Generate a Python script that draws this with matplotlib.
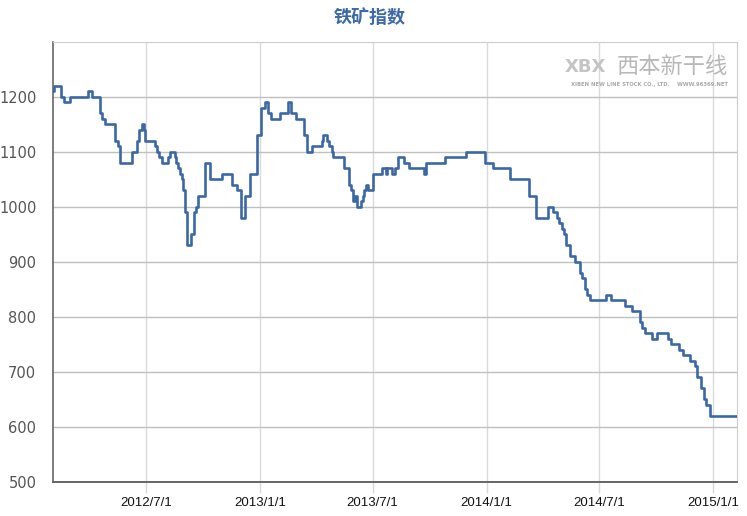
import matplotlib
matplotlib.use("Agg")
import matplotlib.pyplot as plt
import pandas as pd

# iron ore index, change points of the step series
dates = [
    "2012-02-02", "2012-02-03", "2012-02-15", "2012-02-20", "2012-03-01", "2012-03-29",
    "2012-04-05", "2012-04-18", "2012-04-21", "2012-04-25", "2012-05-12", "2012-05-17",
    "2012-05-20", "2012-06-09", "2012-06-17", "2012-06-20", "2012-06-25", "2012-06-28",
    "2012-06-30", "2012-07-15", "2012-07-18", "2012-07-22", "2012-07-26", "2012-08-05",
    "2012-08-09", "2012-08-16", "2012-08-19", "2012-08-21", "2012-08-24", "2012-08-28",
    "2012-08-29", "2012-09-01", "2012-09-02", "2012-09-05", "2012-09-11", "2012-09-17",
    "2012-09-20", "2012-09-23", "2012-10-04", "2012-10-12", "2012-11-01", "2012-11-17",
    "2012-11-25", "2012-12-01", "2012-12-08", "2012-12-16", "2012-12-27", "2013-01-02",
    "2013-01-09", "2013-01-14", "2013-01-18", "2013-02-02", "2013-02-15", "2013-02-20",
    "2013-02-27", "2013-03-12", "2013-03-18", "2013-03-26", "2013-04-10", "2013-04-12",
    "2013-04-18", "2013-04-22", "2013-04-26", "2013-04-29", "2013-05-16", "2013-05-24",
    "2013-05-27", "2013-05-30", "2013-06-02", "2013-06-06", "2013-06-12", "2013-06-15",
    "2013-06-17", "2013-06-20", "2013-06-24", "2013-07-01", "2013-07-16", "2013-07-22",
    "2013-07-25", "2013-08-01", "2013-08-07", "2013-08-11", "2013-08-21", "2013-08-29",
    "2013-09-22", "2013-09-26", "2013-10-26", "2013-11-28", "2013-12-29", "2014-01-12",
    "2014-02-07", "2014-03-11", "2014-03-22", "2014-04-10", "2014-04-18", "2014-04-25",
    "2014-04-28", "2014-05-02", "2014-05-05", "2014-05-09", "2014-05-15", "2014-05-24",
    "2014-06-01", "2014-06-04", "2014-06-09", "2014-06-12", "2014-06-17", "2014-07-12",
    "2014-07-21", "2014-08-12", "2014-08-24", "2014-09-05", "2014-09-08", "2014-09-13",
    "2014-09-24", "2014-10-02", "2014-10-21", "2014-10-25", "2014-11-07", "2014-11-14",
    "2014-11-25", "2014-12-03", "2014-12-06", "2014-12-13", "2014-12-17", "2014-12-21",
    "2014-12-27", "2015-02-08",
]
values = [
    1210, 1220, 1200, 1190, 1200, 1210,
    1200, 1170, 1160, 1150, 1120, 1110,
    1080, 1100, 1120, 1140, 1150, 1140,
    1120, 1110, 1100, 1090, 1080, 1090,
    1100, 1090, 1080, 1070, 1060, 1050,
    1030, 1010, 990, 930, 950, 990,
    1000, 1020, 1080, 1050, 1060, 1040,
    1030, 980, 1020, 1060, 1130, 1180,
    1190, 1170, 1160, 1170, 1190, 1170,
    1160, 1130, 1100, 1110, 1120, 1130,
    1120, 1110, 1100, 1090, 1070, 1040,
    1030, 1010, 1020, 1000, 1010, 1020,
    1030, 1040, 1030, 1060, 1070, 1060,
    1070, 1060, 1070, 1090, 1080, 1070,
    1060, 1080, 1090, 1100, 1080, 1070,
    1050, 1020, 980, 1000, 990, 980,
    970, 960, 950, 930, 910, 900,
    880, 870, 850, 840, 830, 840,
    830, 820, 810, 790, 780, 770,
    760, 770, 760, 750, 740, 730,
    720, 710, 690, 670, 650, 640,
    620, 620,
]

tick_dates = ["2012-07-01", "2013-01-01", "2013-07-01", "2014-01-01", "2014-07-01", "2015-01-01"]
tick_labels = ["2012/7/1", "2013/1/1", "2013/7/1", "2014/1/1", "2014/7/1", "2015/1/1"]
y_ticks = [500, 600, 700, 800, 900, 1000, 1100, 1200]

x = pd.to_datetime(dates)

fig = plt.figure(figsize=(7.47, 5.16), dpi=100)
ax = fig.add_axes([0.071, 0.066, 0.916, 0.853])

ax.step(x, values, where="post", color="#3b68a5", linewidth=1.9, zorder=3)

ax.set_xlim(pd.Timestamp("2012-02-02"), pd.Timestamp("2015-02-09"))
ax.set_ylim(500, 1300)

ax.set_yticks(y_ticks)
ax.set_yticklabels([str(v) for v in y_ticks])
ax.set_xticks(pd.to_datetime(tick_dates))
ax.set_xticklabels(tick_labels)

ax.grid(axis="y", color="#c0c0c0", linewidth=1.0, zorder=1)
ax.grid(axis="x", color="#dadada", linewidth=1.0, zorder=1)

ax.tick_params(axis="y", length=0, pad=12, labelsize=10.5, labelcolor="#555555")
ax.tick_params(axis="x", length=8, width=1, color="#d8d8d8", pad=3, labelsize=9.5,
               labelcolor="#111111")
for lab in ax.get_xticklabels():
    lab.set_family(["Liberation Sans Narrow", "Liberation Sans", "DejaVu Sans"])

ax.spines["left"].set_color("#666666")
ax.spines["bottom"].set_color("#666666")
ax.spines["left"].set_linewidth(1.2)
ax.spines["bottom"].set_linewidth(1.4)
ax.spines["top"].set_color("#cccccc")
ax.spines["right"].set_color("#cccccc")

fig.suptitle("铁矿指数", x=0.495, y=0.985, fontsize=13, fontweight="bold", color="#3d6aa6",
             family=["Noto Sans CJK SC", "DejaVu Sans"])

# watermark
ax.text(0.905, 0.943, "西本新干线", transform=ax.transAxes, fontsize=16, color="#b8b8b8",
        family=["Noto Sans CJK SC", "DejaVu Sans"], ha="center", va="center", style="italic",
        zorder=2)
ax.text(0.778, 0.943, "XBX", transform=ax.transAxes, fontsize=13, color="#c4c4c4",
        fontweight="bold", ha="center", va="center", zorder=2)
ax.text(0.872, 0.902, "XIBEN NEW LINE STOCK CO., LTD.    WWW.96369.NET", transform=ax.transAxes,
        fontsize=3.8, color="#a8a8a8", ha="center", va="center", fontweight="bold", zorder=2)

fig.savefig("out.png", dpi=100)
